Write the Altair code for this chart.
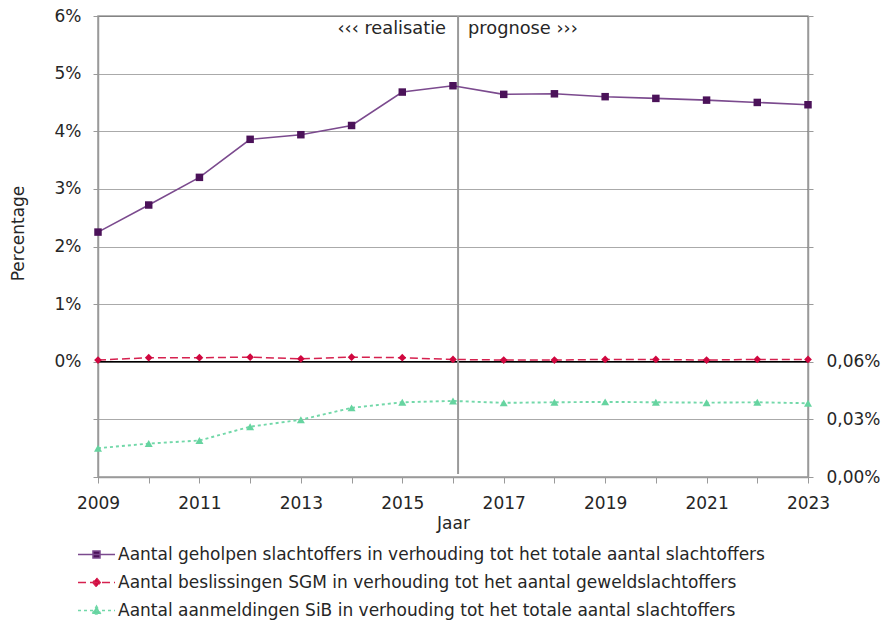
import altair as alt
import pandas as pd

# ---- data ----
jaren = list(range(2009, 2024))
geholpen = [2.25, 2.72, 3.20, 3.86, 3.94, 4.10, 4.68, 4.79, 4.64, 4.65, 4.60, 4.57, 4.54, 4.50, 4.46]  # % (left axis)
sgm = [0.03, 0.07, 0.07, 0.08, 0.05, 0.08, 0.07, 0.04, 0.03, 0.03, 0.04, 0.04, 0.03, 0.04, 0.04]      # % (left axis)
sib = [0.0150, 0.0174, 0.0190, 0.0262, 0.0298, 0.0360, 0.0389, 0.0396, 0.0386, 0.0389, 0.0391,
       0.0389, 0.0387, 0.0389, 0.0384]                                                              # % (right axis)

reeksen = [
    "Aantal geholpen slachtoffers in verhouding tot het totale aantal slachtoffers",
    "Aantal beslissingen SGM in verhouding tot het aantal geweldslachtoffers",
    "Aantal aanmeldingen SiB in verhouding tot het totale aantal slachtoffers",
]
lijnkleuren = ["#7b4a8e", "#d6214f", "#72d8a9"]
markerkleuren = ["#4b1259", "#d0073f", "#66d4a0"]
streepjes = [[1, 0], [8, 4], [3, 3]]
legendpaden = [
    "M-1,0H1M-0.19,-0.19H0.19V0.19H-0.19Z",
    "M-1,0H1M0,-0.24L0.2,0L0,0.24L-0.2,0Z",
    "M-1,0H1M0,-0.24L0.23,0.19H-0.23Z",
]
linker_waarden = [-2, -1, 0, 1, 2, 3, 4, 5, 6]
scheidingsjaar = 2016.1
teksten = ["‹‹‹ realisatie", "prognose ›››"]

FONT = "DejaVu Sans"
TXT = "#262626"
GRIJS = "#9a9a9a"

df = pd.DataFrame({"jaar": jaren, "geholpen": geholpen, "sgm": sgm, "sib": sib})

xscale = alt.Scale(domain=[2009, 2023], nice=False, zero=False)
yscale = alt.Scale(domain=[-2, 6], nice=False, zero=False)

x_axis = alt.Axis(
    values=jaren, format="d",
    labelExpr="datum.value % 2 == 1 ? datum.label : ''",
    title="Jaar", titleFontWeight="normal", titleFontSize=17, titleColor=TXT, titlePadding=4,
    labelFontSize=17, labelColor=TXT, labelPadding=12, tickSize=6, tickColor=GRIJS,
    domainColor=GRIJS, domainWidth=1.5, grid=False, labelFlush=False, labelOverlap=False,
)
left_axis = alt.Axis(
    values=linker_waarden,
    labelExpr="datum.value >= 0 ? datum.value + '%' : ''",
    title="Percentage", titleFontWeight="normal", titleFontSize=17, titleColor=TXT,
    titleX=-80, titleY=217, titleAngle=-90, titleBaseline="middle", titleAlign="center",
    labelFontSize=17, labelColor=TXT, labelPadding=12, tickSize=5, tickColor=GRIJS,
    domainColor=GRIJS, domainWidth=1.5,
    grid=True, gridDash=[1, 1], gridColor="#555555", gridWidth=1,
)
right_axis = alt.Axis(
    orient="right", values=linker_waarden,
    labelExpr="datum.value <= 0 ? replace(format((datum.value + 2) * 0.03, '.2f'), '.', ',') + '%' : ''",
    title=None, labelFontSize=17, labelColor=TXT, labelPadding=13, tickSize=5, tickColor=GRIJS,
    domainColor=GRIJS, domainWidth=1.5, grid=False,
)

base = alt.Chart(df)

X = alt.X("jaar:Q", scale=xscale, axis=x_axis)
Xn = alt.X("jaar:Q", scale=xscale, axis=None)

paars_lijn = base.mark_line(color=lijnkleuren[0], strokeWidth=1.6).encode(
    x=X, y=alt.Y("geholpen:Q", scale=yscale, axis=left_axis))
paars_pt = base.mark_point(shape="square", filled=True, size=56, color=markerkleuren[0], opacity=1).encode(
    x=Xn, y=alt.Y("geholpen:Q", scale=yscale, axis=None))

rood_lijn = base.mark_line(color=lijnkleuren[1], strokeWidth=1.5, strokeDash=streepjes[1]).encode(
    x=Xn, y=alt.Y("sgm:Q", scale=yscale, axis=None))
rood_pt = base.mark_point(shape="diamond", filled=True, size=60, color=markerkleuren[1], opacity=1).encode(
    x=Xn, y=alt.Y("sgm:Q", scale=yscale, axis=None))

groen = base.transform_calculate(ypos="datum.sib / 0.03 - 2")
groen_lijn = groen.mark_line(color=lijnkleuren[2], strokeWidth=1.9, strokeDash=streepjes[2]).encode(
    x=Xn, y=alt.Y("ypos:Q", scale=yscale, axis=None))
groen_pt = groen.mark_point(shape="triangle-up", filled=True, size=64, color=markerkleuren[2], opacity=1).encode(
    x=Xn, y=alt.Y("ypos:Q", scale=yscale, axis=None))

nul_lijn = alt.Chart(pd.DataFrame({"y": [0]})).mark_rule(color="black", strokeWidth=1.3).encode(
    y=alt.Y("y:Q", scale=yscale, axis=right_axis))

scheiding = alt.Chart(pd.DataFrame({"x": [scheidingsjaar], "y": [6], "y2": [-1.95]})).mark_rule(
    color=GRIJS, strokeWidth=2).encode(
    x=alt.X("x:Q", scale=xscale, axis=None), y=alt.Y("y:Q", scale=yscale, axis=None), y2="y2:Q")

tekst_df = pd.DataFrame({"x": [scheidingsjaar], "t1": [teksten[0]], "t2": [teksten[1]]})
tekst_l = alt.Chart(tekst_df).mark_text(align="right", baseline="middle", dx=-12, fontSize=17.8,
                                        font=FONT, color=TXT).encode(
    x=alt.X("x:Q", scale=xscale, axis=None), y=alt.value(13), text="t1:N")
tekst_r = alt.Chart(tekst_df).mark_text(align="left", baseline="middle", dx=10, fontSize=17.8,
                                        font=FONT, color=TXT).encode(
    x=alt.X("x:Q", scale=xscale, axis=None), y=alt.value(13), text="t2:N")

leg = dict(title=None, orient="none", legendX=-21, legendY=519, labelFontSize=17, labelColor=TXT,
           labelFont=FONT, labelLimit=0, symbolSize=1369, symbolStrokeWidth=1.5, labelOffset=2,
           rowPadding=0, padding=0, symbolOpacity=1)
legenda = alt.Chart(pd.DataFrame({"reeks": reeksen})).transform_filter("false").mark_point(
    size=1369, strokeWidth=1.5, opacity=1).encode(
    shape=alt.Shape("reeks:N", scale=alt.Scale(domain=reeksen, range=legendpaden), legend=alt.Legend(**leg)),
    fill=alt.Fill("reeks:N", scale=alt.Scale(domain=reeksen, range=markerkleuren), legend=alt.Legend(**leg)),
    stroke=alt.Stroke("reeks:N", scale=alt.Scale(domain=reeksen, range=lijnkleuren), legend=alt.Legend(**leg)),
    strokeDash=alt.StrokeDash("reeks:N", scale=alt.Scale(domain=reeksen, range=streepjes), legend=alt.Legend(**leg)),
)

chart = alt.layer(
    nul_lijn, scheiding, groen_lijn, groen_pt, rood_lijn, rood_pt, paars_lijn, paars_pt,
    tekst_l, tekst_r, legenda,
).resolve_axis(x="independent", y="independent").properties(
    width=710, height=461,
    padding={"left": 90, "top": 8, "right": 73, "bottom": 145},
    autosize=alt.AutoSizeParams(type="none"),
).configure(font=FONT).configure_view(stroke=GRIJS, strokeWidth=1.5)

chart.save("out.html", embed_options={"renderer": "svg", "actions": False})
